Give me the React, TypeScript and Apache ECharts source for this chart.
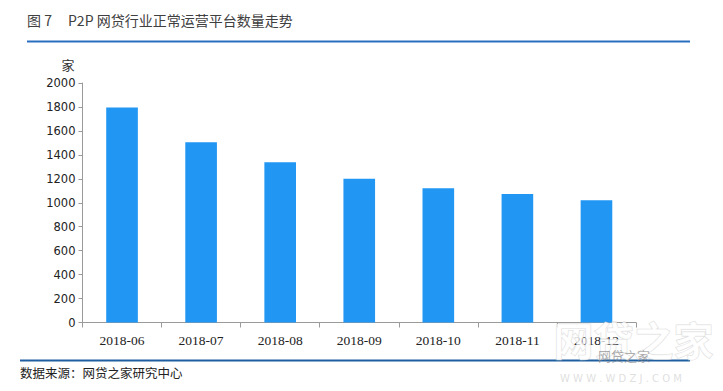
import React, { useEffect, useRef } from "react";
import * as echarts from "echarts";

const categories = ["2018-06", "2018-07", "2018-08", "2018-09", "2018-10", "2018-11", "2018-12"];
const platformCounts = [1795, 1505, 1338, 1200, 1121, 1073, 1021];
const titleText = "P2P 网贷行业正常运营平台数量走势";
const sourceText = "数据来源：网贷之家研究中心";

export default function App() {
  const ref = useRef<HTMLDivElement>(null);
  useEffect(() => {
    if (!ref.current) return;
    const chart = echarts.init(ref.current, null, { renderer: "svg" });
    chart.setOption({
      animation: false,
      backgroundColor: "#ffffff",
      grid: { left: 82.5, right: 87, top: 83, bottom: 68.5, containLabel: false },
      xAxis: {
        type: "category",
        data: categories,
        axisLine: { lineStyle: { color: "#9a9a9a", width: 1 } },
        axisTick: { show: true, length: 5, lineStyle: { color: "#9a9a9a" } },
        axisLabel: { color: "#222", fontFamily: "Liberation Serif", fontSize: 13.5, margin: 11 },
      },
      yAxis: {
        type: "value",
        min: 0,
        max: 2000,
        interval: 200,
        name: "家",
        nameLocation: "end",
        nameGap: 12,
        nameTextStyle: { color: "#333", fontFamily: "Noto Sans CJK SC", fontSize: 13, align: "right", padding: [0, 8, 0, 0] },
        axisLine: { show: true, lineStyle: { color: "#9a9a9a", width: 1 } },
        axisTick: { show: true, length: 4, lineStyle: { color: "#9a9a9a" } },
        splitLine: { show: false },
        axisLabel: {
          color: "#222",
          fontFamily: "DejaVu Sans",
          fontSize: 11.5,
          margin: 7,
          formatter: (v: number) => String(v),
        },
      },
      series: [
        {
          type: "bar",
          data: platformCounts,
          barCategoryGap: "60%",
          itemStyle: { color: "#2196F3" },
        },
      ],
      graphic: [
        { type: "text", left: 27, top: 13, style: { text: "图 7", fill: "#404040", font: "14px 'Noto Sans CJK SC'" } },
        { type: "text", left: 68, top: 13, style: { text: titleText, fill: "#404040", font: "14px 'Noto Sans CJK SC'" } },
        { type: "line", shape: { x1: 27, y1: 41.5, x2: 690, y2: 41.5 }, style: { stroke: "#2a6ebf", lineWidth: 2 } },
        { type: "line", shape: { x1: 20, y1: 360.5, x2: 690, y2: 360.5 }, style: { stroke: "#1f5f9f", lineWidth: 2 } },
        { type: "text", left: 20, top: 366, style: { text: sourceText, fill: "#222", font: "12.5px 'Noto Sans CJK SC'" } },
        {
          type: "text",
          left: 553,
          top: 318,
          z: 100,
          style: { text: "网贷之家", fill: "rgba(255,255,255,0.75)", stroke: "rgba(190,190,190,0.55)", lineWidth: 1, font: "bold 40px 'Noto Sans CJK SC'" },
        },
        {
          type: "text",
          left: 598,
          top: 349,
          z: 101,
          style: { text: "网贷之家", fill: "rgba(120,120,120,0.6)", font: "13px 'Noto Sans CJK SC'" },
        },
        {
          type: "text",
          left: 560,
          top: 373,
          z: 101,
          style: { text: "W W W . W D Z J . C O M", fill: "rgba(215,215,215,0.8)", font: "10px 'DejaVu Sans'" },
        },
      ],
    });
    return () => chart.dispose();
  }, []);
  return <div ref={ref} style={{ width: 723, height: 391, position: "absolute", left: 0, top: 0 }} />;
}
